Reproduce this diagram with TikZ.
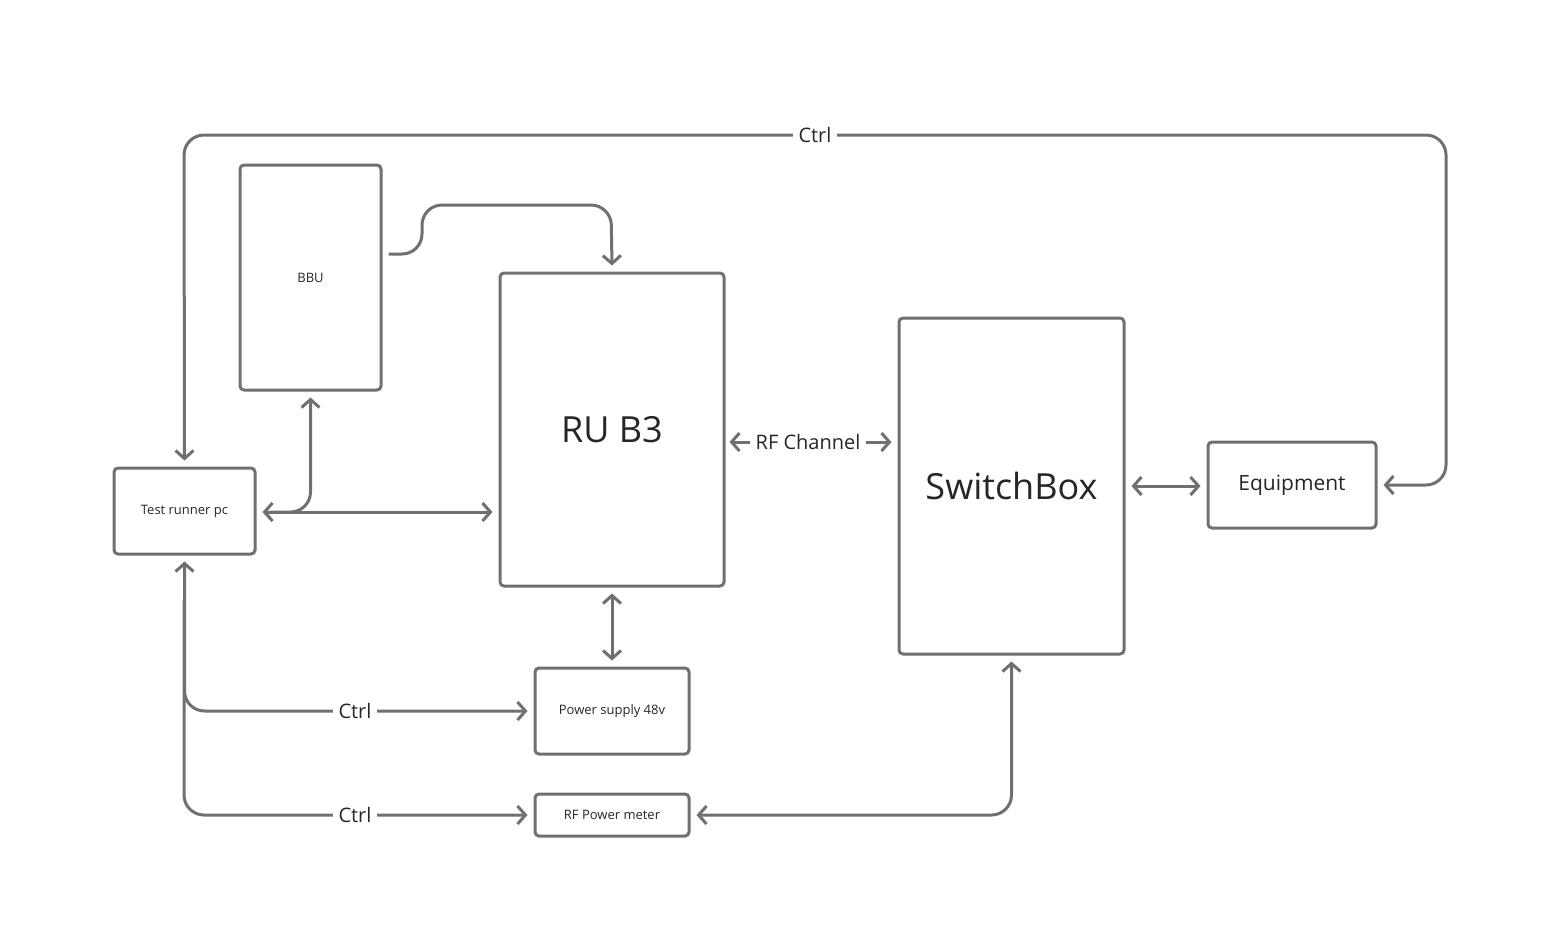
\documentclass[tikz,border=0pt]{standalone}
\usepackage{fontspec}
\setmainfont{Open Sans}
\usetikzlibrary{arrows.meta}
\definecolor{ln}{HTML}{707070}
\definecolor{tx}{HTML}{262626}
\begin{document}
\begin{tikzpicture}[x=0.5pt,y=-0.5pt,
  box/.style={draw=ln,line width=1.5pt,rounded corners=2pt,text=tx},
  tip/.tip={Straight Barb[length=4pt,width=9pt]},
  con/.style={draw=ln,line width=1.5pt,rounded corners=10pt,-tip},
  bi/.style={con,tip-tip},
  lab/.style={fill=white,text=tx,font=\fontsize{10}{12}\selectfont,inner xsep=3pt}]
\useasboundingbox (0,0) rectangle (1560,950);
\node[box,minimum width=70.5pt,minimum height=112.5pt] (bbu) at (310.5,277.5) {\fontsize{6.5}{8}\selectfont BBU};
\node[box,minimum width=112pt,minimum height=156.5pt] (ru) at (612,429.5) {\fontsize{18}{22}\selectfont RU B3};
\node[box,minimum width=112.5pt,minimum height=168pt] (sw) at (1011.5,486) {\fontsize{18}{22}\selectfont SwitchBox};
\node[box,minimum width=84pt,minimum height=43pt] (eq) at (1292,485) {\fontsize{10.5}{13}\selectfont Equipment};
\node[box,minimum width=70.5pt,minimum height=43pt] (tr) at (184.5,511) {\fontsize{6.5}{8}\selectfont Test runner pc};
\node[box,minimum width=77pt,minimum height=43pt] (ps) at (612,711) {\fontsize{6.5}{8}\selectfont Power supply 48v};
\node[box,minimum width=77pt,minimum height=21pt] (pm) at (612,815) {\fontsize{6.5}{8}\selectfont RF Power meter};
\coordinate (c1) at (184,135);
\coordinate (c2) at (1446,135);
% top ctrl
\draw[bi] ([yshift=3pt]tr.north) -- (c1) -- (c2) |- ([xshift=3pt]eq.east);
\node[lab] (ctrl1) at (815,135) {Ctrl};
% BBU -> RU
\draw[con] ([xshift=3pt]bbu.east|-0,254) -- (422,254) -- (422,205) -- (611,205) -- ([yshift=3pt]ru.north);
% TR <-> RU
\draw[bi] ([xshift=3pt]tr.east|-0,512) -- ([xshift=-3pt]ru.west|-0,512);
\draw[con] (270,512) -| ([yshift=-3pt]bbu.south);
% RU <-> PS
\draw[bi] ([yshift=-3pt]ru.south) -- ([yshift=3pt]ps.north);
% RF channel
\draw[bi] ([xshift=2pt]ru.east|-0,442) -- ([xshift=-3pt]sw.west|-0,442);
\node[lab] (rfc) at (808,442) {RF Channel};
% SW <-> EQ
\draw[bi] ([xshift=3pt]sw.east|-0,486) -- ([xshift=-3pt]eq.west|-0,486);
% ctrl lower
\draw[bi] ([yshift=-3pt]tr.south) |- ([xshift=-3pt]ps.west);
\draw[con] (184,600) |- ([xshift=-3pt]pm.west);
\node[lab] (ctrl2) at (355,711) {Ctrl};
\node[lab] (ctrl3) at (355,815) {Ctrl};
% SW <-> PM
\draw[bi] ([yshift=-3pt]sw.south) |- ([xshift=3pt]pm.east);
\end{tikzpicture}
\end{document}
